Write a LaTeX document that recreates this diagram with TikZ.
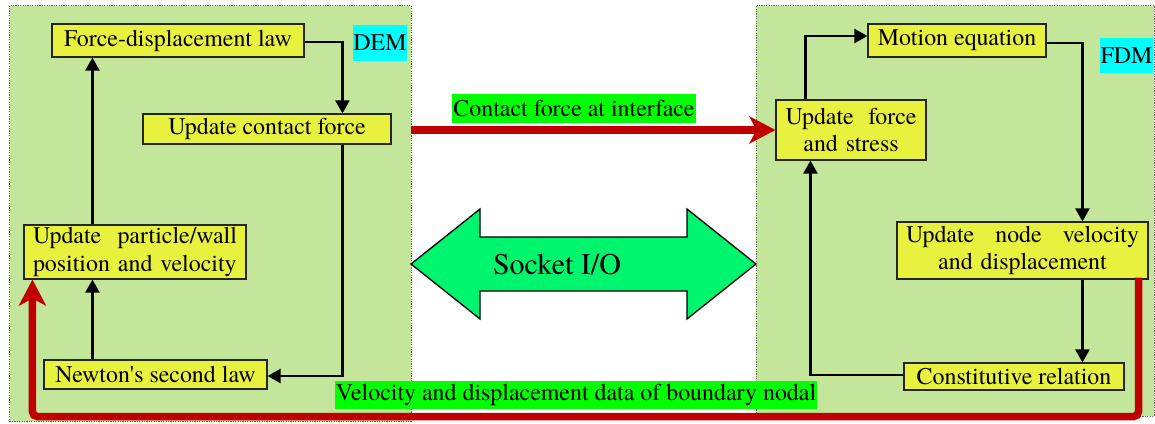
\documentclass[tikz,border=0pt]{standalone}
\usepackage{fontspec}
\setmainfont{TeX Gyre Termes}
\usetikzlibrary{arrows.meta,calc}
\definecolor{panelgreen}{RGB}{195,230,155}
\definecolor{boxyellow}{RGB}{232,242,62}
\definecolor{labcyan}{RGB}{0,255,255}
\definecolor{labgreen}{RGB}{0,255,0}
\definecolor{sockgreen}{RGB}{0,245,110}
\definecolor{darkred}{RGB}{192,0,0}
\newcommand{\fs}{\fontsize{23.9}{27.7}\selectfont}
\tikzset{
  panel/.style={draw=black!60, fill=panelgreen, line width=0.9pt, dash pattern=on 1.2pt off 1.2pt, inner sep=0pt},
  blk/.style={draw=black!85, fill=boxyellow, line width=1.1pt, inner sep=0pt, font=\fs},
  lab/.style={inner sep=0pt, font=\fs},
  arr/.style={line width=2.2pt, -{Triangle[length=13pt,width=14pt]}},
  redarr/.style={draw=darkred, line width=7.5pt, -{Stealth[length=26pt,width=27pt,inset=7pt]}},
}
\begin{document}
\begin{tikzpicture}[x=1pt,y=-1pt]
\useasboundingbox (0,0) rectangle (1155,423);
% panels
\node[panel, minimum width=401.5pt, minimum height=416pt] (demp) at (210.25,213.5) {};
\node[panel, minimum width=398pt, minimum height=410.5pt] (fdmp) at (955,210.75) {};
% DEM boxes
\node[blk, minimum width=252pt, minimum height=33pt] (fd) at (178,40.5) {Force-displacement law};
\node[blk, minimum width=248pt, minimum height=30pt] (ucf) at (267,129) {Update contact force};
\node[blk, minimum width=222pt, minimum height=54pt, text width=204pt, align=left] (upw) at (135,252)
  {\hbox to 204pt{Update\hfill particle/wall}\\position and velocity};
\node[blk, minimum width=223pt, minimum height=29pt] (nsl) at (155.5,374.5) {Newton\textquotesingle s second law};
% FDM boxes
\node[blk, minimum width=178pt, minimum height=33pt] (me) at (957,40.5) {Motion equation};
\node[blk, minimum width=150pt, minimum height=60pt, text width=131pt, align=center] (ufs) at (851,130)
  {\hbox to 131pt{Update\hfill force}\\and stress};
\node[blk, minimum width=251pt, minimum height=57pt, text width=233pt, align=center] (unv) at (1022.5,250.5)
  {\hbox to 233pt{Update\hfill node\hfill velocity}\\and displacement};
\node[blk, minimum width=220pt, minimum height=27pt] (cr) at (1014,376.5) {Constitutive relation};
% labels
\node[lab, fill=labcyan, minimum width=54pt, minimum height=36pt] (dem) at (380,43) {DEM};
\node[lab, fill=labcyan, minimum width=53pt, minimum height=35pt] (fdm) at (1126.5,55.5) {FDM};
% DEM connectors
\draw[arr] ($(fd.east)+(0,1.5)$) -| ($(ucf.north west)+(200,0)$);
\draw[arr] ($(ucf.south west)+(200,0)$) |- ($(nsl.east)+(0,1.5)$);
\draw[arr] ($(nsl.north west)+(49,0)$) -- ($(upw.south west)+(69,0)$);
\draw[arr] ($(upw.north west)+(69,0)$) -- ($(fd.south west)+(41,0)$);
% FDM connectors
\draw[arr] ($(ufs.north west)+(30,0)$) |- ($(me.west)+(0,-4.5)$);
\draw[arr] ($(me.east)+(0,2.5)$) -| ($(unv.north west)+(186,0)$);
\draw[arr] ($(unv.south west)+(186,0)$) -- ($(cr.north west)+(179,0)$);
\draw[arr] ($(cr.west)+(0,-1.5)$) -| ($(ufs.south west)+(35,0)$);
% socket double arrow
\draw[fill=sockgreen, line width=1.3pt, line join=miter]
  (411,264) -- (480,209) -- (480,237) -- (687,237) -- (687,209) -- (756,264)
  -- (687,319) -- (687,291) -- (480,291) -- (480,319) -- cycle;
\node[lab, font=\fontsize{30}{34}\selectfont] (sock) at (557,264) {Socket I/O};
% red arrows
\draw[redarr] (demp.east |- ufs.west) -- (ufs.west);
\draw[redarr, rounded corners=5pt] ($(unv.south east)+(-10,-2)$) -- ++(0,139) -| ($(upw.south west)+(9,0)$);
\node[lab, fill=labgreen, minimum width=244pt, minimum height=29pt] (cfl) at (574,108.5) {Contact force at interface};
\node[lab, fill=labgreen, minimum width=482pt, minimum height=28pt] (vdl) at (576,395) {Velocity and displacement data of boundary nodal};
\end{tikzpicture}
\end{document}
